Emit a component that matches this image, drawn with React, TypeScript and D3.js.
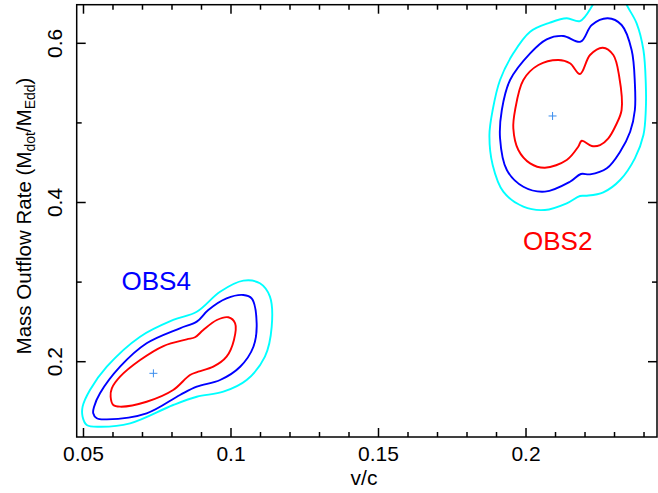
import React from "react";
import * as d3 from "d3";

type P = [number, number];

// Contour vertices [v/c, Mdot/MEdd]
const obs2Red: P[] = [
  [0.1963, 0.5162], [0.1991, 0.5539], [0.2042, 0.5727], [0.211, 0.579], [0.2149, 0.5749],
  [0.2183, 0.5614], [0.2217, 0.5853], [0.226, 0.5945], [0.2296, 0.5853], [0.2316, 0.558],
  [0.2324, 0.5162], [0.2305, 0.4974], [0.2279, 0.4807], [0.2251, 0.4722], [0.2223, 0.471],
  [0.2189, 0.4776], [0.2177, 0.4701], [0.2138, 0.4534], [0.2064, 0.4437], [0.2014, 0.4492],
  [0.1974, 0.466], [0.1957, 0.4932],
];
const obs2Blue: P[] = [
  [0.1918, 0.5162], [0.1946, 0.5539], [0.2014, 0.5874], [0.207, 0.605], [0.2126, 0.6092],
  [0.2185, 0.602], [0.2223, 0.623], [0.2277, 0.6314], [0.2324, 0.623], [0.2358, 0.5916],
  [0.2369, 0.5497], [0.2369, 0.5162], [0.2353, 0.4889], [0.2319, 0.4638], [0.2274, 0.443],
  [0.2217, 0.4354], [0.2186, 0.4358], [0.2149, 0.4261], [0.2064, 0.4136], [0.1991, 0.4198],
  [0.1935, 0.4408], [0.1912, 0.4807],
];
const obs2Cyan: P[] = [
  [0.1887, 0.5162], [0.1912, 0.5539], [0.1957, 0.5874], [0.2014, 0.6146], [0.2081, 0.6259],
  [0.2138, 0.6314], [0.2183, 0.628], [0.2228, 0.6494], [0.2258, 0.6704], [0.2298, 0.6764],
  [0.2325, 0.6689], [0.2339, 0.6503], [0.2375, 0.6251], [0.2398, 0.5916], [0.2406, 0.5497],
  [0.2406, 0.5162], [0.2398, 0.4848], [0.2369, 0.4555], [0.2319, 0.4283], [0.2262, 0.4128],
  [0.2206, 0.4085], [0.2183, 0.4082], [0.2138, 0.399], [0.2064, 0.3906], [0.1991, 0.3947],
  [0.1923, 0.4136], [0.1887, 0.4471], [0.1876, 0.4848],
];
const obs4Red: P[] = [
  [0.0592, 0.156], [0.0601, 0.1456], [0.0624, 0.1435], [0.0714, 0.1497], [0.0804, 0.1644],
  [0.0861, 0.1833], [0.0889, 0.1874], [0.094, 0.1937], [0.0985, 0.2063], [0.101, 0.2273],
  [0.1014, 0.2482], [0.0991, 0.2558], [0.0952, 0.2524], [0.0906, 0.2398], [0.0878, 0.2307],
  [0.085, 0.2281], [0.0771, 0.2197], [0.0692, 0.2021], [0.0624, 0.1812], [0.0596, 0.1666],
];
const obs4Blue: P[] = [
  [0.0533, 0.1352], [0.0545, 0.1289], [0.0579, 0.1276], [0.0714, 0.1352], [0.0827, 0.1582],
  [0.0884, 0.1686], [0.0963, 0.177], [0.1031, 0.1937], [0.1076, 0.2188], [0.1087, 0.2482],
  [0.107, 0.2796], [0.1042, 0.2838], [0.0985, 0.2796], [0.0923, 0.265], [0.0884, 0.2503],
  [0.0827, 0.242], [0.0714, 0.2231], [0.0624, 0.1937], [0.0556, 0.1603], [0.0536, 0.1435],
];
const obs4Cyan: P[] = [
  [0.0497, 0.1309], [0.0511, 0.1205], [0.0556, 0.1183], [0.0658, 0.1226], [0.0804, 0.1456],
  [0.0884, 0.156], [0.0974, 0.1623], [0.1053, 0.177], [0.1115, 0.2063], [0.1138, 0.244],
  [0.1132, 0.2817], [0.1098, 0.2985], [0.1042, 0.3018], [0.0963, 0.2879], [0.0884, 0.2628],
  [0.0804, 0.2524], [0.0692, 0.2314], [0.0579, 0.1937], [0.0522, 0.1644], [0.0497, 0.1435],
];

const bestFits: P[] = [[0.209, 0.5087], [0.0737, 0.1854]];

const xMajor = [0.05, 0.1, 0.15, 0.2];
const xMinor = [0.06, 0.07, 0.08, 0.09, 0.11, 0.12, 0.13, 0.14, 0.16, 0.17, 0.18, 0.19, 0.21, 0.22, 0.23, 0.24];
const yMajor = [0.2, 0.4, 0.6];
const yMinor = [0.3, 0.5];
const xTickLabels = ["0.05", "0.1", "0.15", "0.2"];
const yTickLabels = ["0.2", "0.4", "0.6"];

const labels = [
  { text: "OBS2", v: 0.199, m: 0.3403, color: "#ff0000" },
  { text: "OBS4", v: 0.0629, m: 0.2901, color: "#0000ff" },
];

const W = 658, H = 493;
const L = 76.7, R = 657, T = 4.7, B = 437;
const FONT = "'Liberation Sans', Arial, Helvetica, sans-serif";

export default function App() {
  const x = d3.scaleLinear().domain([0.0477, 0.2444]).range([L, R]);
  const y = d3.scaleLinear().domain([0.1054, 0.6485]).range([B, T]);
  const line = d3
    .line<P>()
    .x((d) => x(d[0]))
    .y((d) => y(d[1]))
    .curve(d3.curveCatmullRomClosed.alpha(0.5));

  const contours = [
    { pts: obs2Cyan, c: "#00ffff" },
    { pts: obs2Blue, c: "#0000ff" },
    { pts: obs2Red, c: "#ff0000" },
    { pts: obs4Cyan, c: "#00ffff" },
    { pts: obs4Blue, c: "#0000ff" },
    { pts: obs4Red, c: "#ff0000" },
  ];

  const major = 9, minor = 5;

  return (
    <svg width={W} height={H} style={{ position: "absolute", left: 0, top: 0, background: "#fff" }}>
      <defs>
        <clipPath id="plot">
          <rect x={L} y={T} width={R - L} height={B - T} />
        </clipPath>
      </defs>
      <g clipPath="url(#plot)">
        {contours.map((c, i) => (
          <path key={i} d={line(c.pts) || ""} fill="none" stroke={c.c} strokeWidth={1.9} />
        ))}
        {bestFits.map((p, i) => (
          <g key={i} stroke="#3b8ded" strokeWidth={1}>
            <line x1={x(p[0]) - 4} x2={x(p[0]) + 4} y1={y(p[1])} y2={y(p[1])} />
            <line x1={x(p[0])} x2={x(p[0])} y1={y(p[1]) - 4} y2={y(p[1]) + 4} />
          </g>
        ))}
      </g>
      {labels.map((l) => (
        <text key={l.text} x={x(l.v)} y={y(l.m)} fill={l.color} fontFamily={FONT} fontSize={26}>
          {l.text}
        </text>
      ))}
      <g stroke="#000" strokeWidth={1.5}>
        {xMajor.map((v) => (
          <g key={"xM" + v}>
            <line x1={x(v)} x2={x(v)} y1={B} y2={B - major} />
            <line x1={x(v)} x2={x(v)} y1={T} y2={T + major} />
          </g>
        ))}
        {xMinor.map((v) => (
          <g key={"xm" + v}>
            <line x1={x(v)} x2={x(v)} y1={B} y2={B - minor} />
            <line x1={x(v)} x2={x(v)} y1={T} y2={T + minor} />
          </g>
        ))}
        {yMajor.map((v) => (
          <g key={"yM" + v}>
            <line x1={L} x2={L + major} y1={y(v)} y2={y(v)} />
            <line x1={R} x2={R - major} y1={y(v)} y2={y(v)} />
          </g>
        ))}
        {yMinor.map((v) => (
          <g key={"ym" + v}>
            <line x1={L} x2={L + minor} y1={y(v)} y2={y(v)} />
            <line x1={R} x2={R - minor} y1={y(v)} y2={y(v)} />
          </g>
        ))}
        <rect x={L} y={T} width={R - L} height={B - T} fill="none" />
      </g>
      <g fontFamily={FONT} fontSize={21} fill="#000">
        {xMajor.map((v, i) => (
          <text key={"xl" + v} x={x(v)} y={461} textAnchor="middle">
            {xTickLabels[i]}
          </text>
        ))}
        {yMajor.map((v, i) => (
          <text key={"yl" + v} transform={`translate(61.5,${y(v)}) rotate(-90)`} textAnchor="middle">
            {yTickLabels[i]}
          </text>
        ))}
        <text x={364} y={485} textAnchor="middle">v/c</text>
        <text transform="translate(31,216) rotate(-90)" textAnchor="middle" fontSize={20.5}>
          Mass Outflow Rate (M
          <tspan fontSize={14} dy={4}>dot</tspan>
          <tspan dy={-4}>/M</tspan>
          <tspan fontSize={14} dy={4}>Edd</tspan>
          <tspan dy={-4}>)</tspan>
        </text>
      </g>
    </svg>
  );
}
